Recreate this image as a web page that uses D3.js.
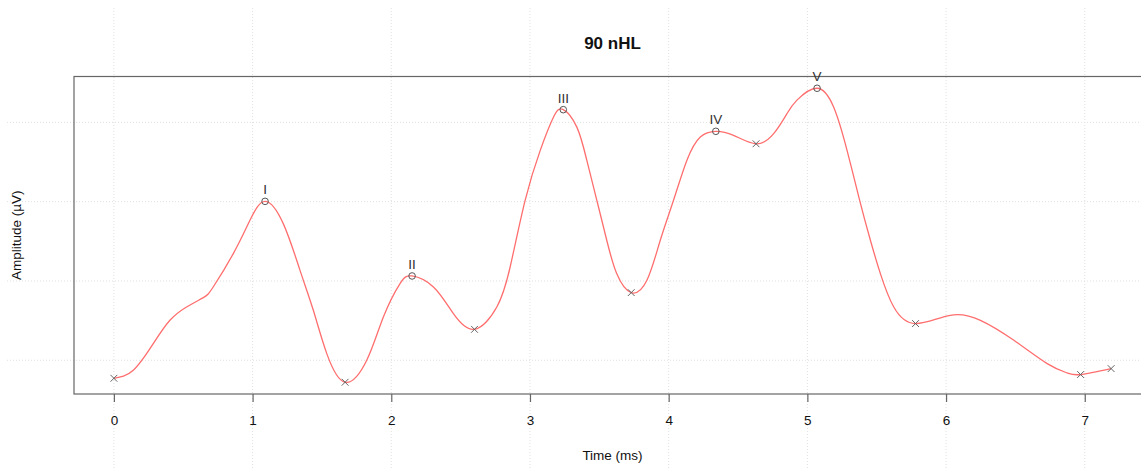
<!DOCTYPE html>
<html><head><meta charset="utf-8">
<script src="https://cdn.jsdelivr.net/npm/d3@7"></script>
<style>body{margin:0;background:#fff}svg{display:block;font-family:"Liberation Sans",Arial,sans-serif}</style>
</head><body><svg id="c" width="1141" height="469"></svg>
<script>
// waveform samples (time ms, amplitude µV)
const waveTime = [0,0.14,0.284,0.404,0.524,0.645,0.716,0.861,0.981,1.09,1.222,1.342,1.438,1.535,1.667,1.823,1.943,2.063,2.15,2.304,2.448,2.60,2.761,2.857,2.965,3.074,3.17,3.24,3.338,3.41,3.482,3.554,3.626,3.73,3.843,3.939,4.035,4.131,4.228,4.34,4.468,4.63,4.757,4.853,4.925,5.07,5.19,5.286,5.377,5.455,5.527,5.623,5.78,6.03,6.248,6.489,6.729,6.873,6.97,7.19];
const waveAmp  = [-0.0227,-0.0126,0.021,0.0504,0.0672,0.079,0.0924,0.1345,0.1765,0.2004,0.172,0.1134,0.063,0.0084,-0.0277,0,0.0546,0.0967,0.1063,0.0924,0.0588,0.039,0.0672,0.1176,0.2017,0.2647,0.3067,0.316,0.294,0.252,0.2017,0.151,0.109,0.0853,0.1008,0.151,0.2017,0.252,0.2815,0.2887,0.2836,0.273,0.2857,0.311,0.328,0.343,0.319,0.2647,0.2017,0.151,0.109,0.0672,0.0463,0.0567,0.0504,0.0252,-0.0042,-0.016,-0.018,-0.0105];
const peakLabels = ["I","II","III","IV","V"];
const peakTime = [1.09,2.15,3.24,4.34,5.07];
const peakAmp  = [0.2004,0.1063,0.316,0.2887,0.343];
const troughTime = [0,1.667,2.60,3.73,4.63,5.78,6.97,7.19];
const troughAmp  = [-0.0227,-0.0277,0.039,0.0853,0.273,0.0463,-0.018,-0.0105];
const xTicks = [0,1,2,3,4,5,6,7];
const yGrid = [0,0.1,0.2,0.3];
const title = "90 nHL", xTitle = "Time (ms)", yTitle = "Amplitude (µV)";

const W=1141,H=469;
const svg=d3.select("#c");
const xmin=d3.min(waveTime), xmax=d3.max(waveTime), xp=(xmax-xmin)*0.04;
const ymin=d3.min(waveAmp), ymax=d3.max(waveAmp), yp=(ymax-ymin)*0.04;
const L=74, R=1151, T=76.5, B=394;
const x=d3.scaleLinear().domain([xmin-xp,xmax+xp]).range([L,R]);
const y=d3.scaleLinear().domain([ymin-yp,ymax+yp]).range([B,T]);

// grid across the whole figure
const g=svg.append("g").attr("stroke","#e0e0e0").attr("stroke-width",1).attr("stroke-dasharray","1,2");
g.selectAll("line.v").data(xTicks).join("line").attr("x1",d=>x(d)).attr("x2",d=>x(d)).attr("y1",8).attr("y2",H);
g.selectAll("line.h").data(yGrid).join("line").attr("y1",d=>y(d)).attr("y2",d=>y(d)).attr("x1",7).attr("x2",W);

// box
svg.append("rect").attr("x",L).attr("y",T).attr("width",R-L).attr("height",B-T).attr("fill","none").attr("stroke","#666").attr("stroke-width",1.2);

// x axis
const ax=svg.append("g").attr("transform",`translate(0,${B})`).call(d3.axisBottom(x).tickValues(xTicks).tickSize(8).tickSizeOuter(0).tickPadding(13).tickFormat(d3.format("d")));
ax.select(".domain").remove();
ax.selectAll(".tick line").attr("stroke","#666").attr("stroke-width",1.2);
ax.selectAll(".tick text").attr("font-size",13.5).attr("fill","#111").attr("font-family","Liberation Sans, Arial, sans-serif");

// line
const line=d3.line().x((d,i)=>x(waveTime[i])).y((d,i)=>y(waveAmp[i])).curve(d3.curveNatural);
svg.append("path").attr("d",line(waveAmp)).attr("fill","none").attr("stroke","#ff6e6e").attr("stroke-width",1.3);

// markers
svg.selectAll("circle.pk").data(peakTime).join("circle").attr("cx",d=>x(d)).attr("cy",(d,i)=>y(peakAmp[i])).attr("r",3.3).attr("fill","none").attr("stroke","#555").attr("stroke-width",1);
const s=3.4;
const cr=svg.append("g").attr("stroke","#666").attr("stroke-width",1);
troughTime.forEach((t,i)=>{const cx=x(t),cy=y(troughAmp[i]);
  cr.append("line").attr("x1",cx-s).attr("y1",cy-s).attr("x2",cx+s).attr("y2",cy+s);
  cr.append("line").attr("x1",cx-s).attr("y1",cy+s).attr("x2",cx+s).attr("y2",cy-s);});
svg.selectAll("text.pl").data(peakLabels).join("text").attr("x",(d,i)=>x(peakTime[i])).attr("y",(d,i)=>y(peakAmp[i])-7).attr("text-anchor","middle").attr("font-size",13.5).attr("fill","#333").text(d=>d);

// titles
svg.append("text").attr("x",(L+R)/2).attr("y",49).attr("text-anchor","middle").attr("font-size",17).attr("font-weight","bold").attr("fill","#111").text(title);
svg.append("text").attr("x",(L+R)/2).attr("y",460).attr("text-anchor","middle").attr("font-size",13.5).attr("fill","#111").text(xTitle);
svg.append("text").attr("transform",`translate(21,${(T+B)/2}) rotate(-90)`).attr("text-anchor","middle").attr("font-size",13.5).attr("fill","#111").text(yTitle);
</script></body></html>
